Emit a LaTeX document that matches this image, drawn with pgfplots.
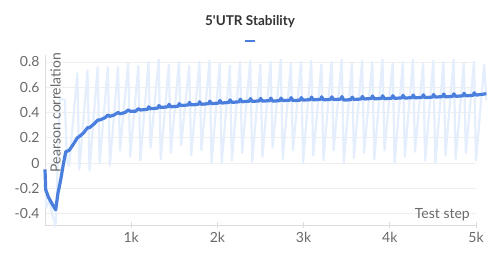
\documentclass[border=0pt]{standalone}
\usepackage{pgfplots}
\pgfplotsset{compat=1.18}
\usepackage{fontspec}
\setmainfont{Lato}
\definecolor{boldblue}{HTML}{4A7FDE}
\definecolor{faintblue}{HTML}{E5EEFC}
\definecolor{gridc}{HTML}{EFEFEF}
\definecolor{axisc}{HTML}{DCDCDC}
\definecolor{tickc}{HTML}{6A6A6A}
\definecolor{titlec}{HTML}{333333}
\pgfplotstableread{
x y
0 -0.05
15 -0.35
50 -0.30
90 -0.42
125 -0.50
150 0.05
170 0.51
230 0.50
255 0.00
280 -0.02
375 0.71
398 -0.05
493 0.73
516 -0.06
611 0.76
634 0.00
729 0.76
752 -0.02
847 0.76
870 0.10
965 0.79
988 0.05
1083 0.77
1106 0.02
1201 0.80
1224 0.12
1319 0.82
1342 0.03
1437 0.78
1460 0.08
1555 0.80
1578 0.14
1673 0.77
1696 0.06
1791 0.80
1814 0.10
1909 0.81
1932 0.00
2027 0.79
2050 0.00
2145 0.77
2168 0.02
2263 0.80
2286 0.08
2381 0.81
2404 0.01
2499 0.78
2522 0.05
2617 0.80
2640 0.12
2735 0.82
2758 0.03
2853 0.79
2876 0.10
2971 0.80
2994 0.00
3089 0.81
3112 0.06
3207 0.78
3230 0.02
3325 0.80
3348 0.10
3443 0.82
3466 0.00
3561 0.79
3584 0.04
3679 0.81
3702 0.08
3797 0.80
3820 0.03
3915 0.82
3938 0.10
4033 0.79
4056 0.00
4151 0.80
4174 0.05
4269 0.82
4292 0.09
4387 0.79
4410 0.02
4505 0.81
4528 0.00
4623 0.80
4646 0.06
4741 0.82
4764 0.03
4859 0.79
4882 0.08
4977 0.80
5000 0.02
5095 0.78
5120 0.50
}\faint
\pgfplotstableread{
x y
0 -0.05
8 -0.21
40 -0.27
80 -0.32
124 -0.37
150 -0.24
183 -0.13
215 0.00
241 0.09
280 0.10
330 0.15
375 0.20
398 0.21
450 0.24
493 0.28
516 0.28
570 0.31
611 0.34
634 0.34
700 0.36
729 0.38
752 0.37
800 0.38
847 0.40
870 0.39
930 0.40
965 0.42
988 0.41
1050 0.41
1083 0.43
1106 0.420
1191 0.425
1203 0.445
1224 0.430
1309 0.435
1321 0.455
1342 0.440
1427 0.445
1439 0.465
1460 0.445
1545 0.450
1557 0.470
1578 0.455
1663 0.460
1675 0.480
1696 0.460
1781 0.465
1793 0.485
1814 0.465
1899 0.470
1911 0.490
1932 0.470
2017 0.475
2029 0.495
2050 0.475
2135 0.480
2147 0.500
2168 0.480
2253 0.485
2265 0.505
2286 0.485
2371 0.490
2383 0.510
2404 0.488
2489 0.492
2501 0.512
2522 0.490
2607 0.494
2619 0.514
2640 0.490
2725 0.494
2737 0.514
2758 0.494
2843 0.498
2855 0.518
2876 0.494
2961 0.498
2973 0.518
2994 0.498
3079 0.502
3091 0.522
3112 0.500
3197 0.504
3209 0.524
3230 0.500
3315 0.504
3327 0.524
3348 0.502
3433 0.506
3445 0.526
3466 0.498
3551 0.502
3563 0.522
3584 0.503
3669 0.507
3681 0.527
3702 0.507
3787 0.511
3799 0.531
3820 0.508
3905 0.512
3917 0.532
3938 0.509
4023 0.513
4035 0.533
4056 0.512
4141 0.516
4153 0.536
4174 0.514
4259 0.518
4271 0.538
4292 0.516
4377 0.520
4389 0.540
4410 0.518
4495 0.522
4507 0.542
4528 0.522
4613 0.526
4625 0.546
4646 0.524
4731 0.528
4743 0.548
4764 0.528
4849 0.532
4861 0.552
4882 0.532
4967 0.536
4979 0.556
5000 0.538
5085 0.545
5120 0.550
}\bold
\begin{document}
\begin{tikzpicture}[x=1pt,y=1pt]
\useasboundingbox (0,0) rectangle (500,262);
\node[font=\fontsize{13.5}{15}\selectfont\bfseries, text=titlec] at (250,240) {5\textquotesingle UTR Stability};
\draw[boldblue, line width=2pt] (245,221) -- (255,221);
\begin{axis}[
  at={(45pt,37pt)}, anchor=south west,
  scale only axis, width=431pt, height=170pt,
  xmin=0, xmax=5000, ymin=-0.49, ymax=0.855,
  clip=false,
  axis line style={axisc, line width=0.8pt},
  axis x line*=bottom, axis y line*=left,
  xtick={1000,2000,3000,4000,5000},
  xticklabels={1k,2k,3k,4k,5k},
  ytick={-0.4,-0.2,0,0.2,0.4,0.6,0.8},
  yticklabels={-0.4,-0.2,0,0.2,0.4,0.6,0.8},
  ymajorgrids, grid style={gridc, line width=0.8pt},
  major tick length=6pt,
  xtick style={axisc, line width=0.8pt, yshift=-3pt},
  ytick style={draw=none},
  tick label style={text=tickc, font=\fontsize{14}{16}\selectfont},
  xticklabel style={yshift=-4pt},
  yticklabel style={xshift=-2pt},
]
\addplot[faintblue, line width=2.2pt, line join=round] table[x=x,y=y] {\faint};
\addplot[boldblue, line width=3.2pt, line join=round] table[x=x,y=y] {\bold};
\node[rotate=90, anchor=north east, text=tickc, font=\fontsize{14}{16}\selectfont, inner sep=1pt] at (rel axis cs:0,1) [xshift=3pt, yshift=-4pt] {Pearson correlation};
\node[anchor=south east, text=tickc, font=\fontsize{14}{16}\selectfont, inner sep=1pt] at (rel axis cs:1,0) [xshift=-5pt, yshift=3pt] {Test step};
\end{axis}
\end{tikzpicture}
\end{document}
